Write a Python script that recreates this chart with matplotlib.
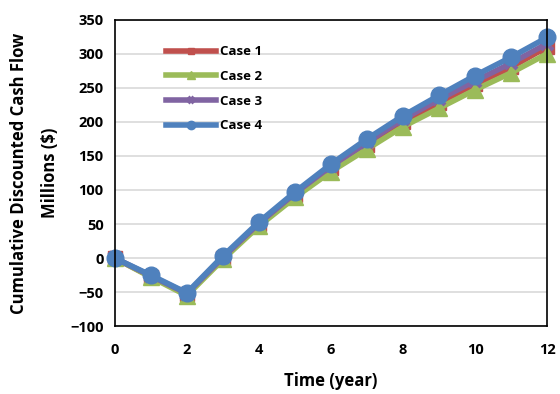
import matplotlib.pyplot as plt
import numpy as np

plt.rcParams['font.family'] = ['Open Sans', 'DejaVu Sans']
plt.rcParams['font.weight'] = 'bold'

years = np.arange(0, 13)
case1 = [0, -27, -53, 0, 50, 93, 132, 166, 200, 228, 255, 280, 310]
case2 = [0, -28, -55, -2, 47, 89, 127, 160, 193, 220, 247, 272, 300]
case3 = [0, -26, -52, 1, 51, 95, 135, 170, 204, 233, 260, 286, 315]
case4 = [0, -25, -51, 3, 53, 97, 138, 175, 209, 239, 268, 295, 324]

fig, ax = plt.subplots(figsize=(5.6, 3.94), dpi=100)

ax.plot(years, case1, color="#c0504d", lw=4, marker="s", ms=10, label="Case 1", clip_on=False)
ax.plot(years, case2, color="#9bbb59", lw=4, marker="^", ms=12, label="Case 2", clip_on=False)
ax.plot(years, case3, color="#8064a2", lw=4, marker="x", ms=8, mew=3, label="Case 3", clip_on=False)
ax.plot(years, case4, color="#4f81bd", lw=4, marker="o", ms=12, label="Case 4", clip_on=False)

ax.set_xlim(0, 12)
ax.set_ylim(-100, 350)
ax.set_xticks(range(0, 13, 2))
ax.set_yticks(range(-100, 351, 50))
ax.tick_params(length=0, labelsize=10.5)
ax.tick_params(axis="x", pad=12)
ax.tick_params(axis="y", pad=8)
ax.yaxis.grid(True, color="#d9d9d9", lw=1.2)
ax.set_axisbelow(True)
for s in ax.spines.values():
    s.set_linewidth(1.2)

ax.set_xlabel("Time (year)", fontsize=12, fontweight="bold", labelpad=11)
ax.set_ylabel("Cumulative Discounted Cash Flow\nMillions ($)", fontsize=12, fontweight="bold",
              labelpad=8, linespacing=1.9)

ax.legend(loc="upper left", bbox_to_anchor=(0.09, 0.955), frameon=False, markerscale=0.5,
          handlelength=3.8, fontsize=9.5, labelspacing=0.88, handletextpad=0.3)

fig.subplots_adjust(left=0.205, right=0.977, top=0.95, bottom=0.172)
fig.savefig("out.png")
